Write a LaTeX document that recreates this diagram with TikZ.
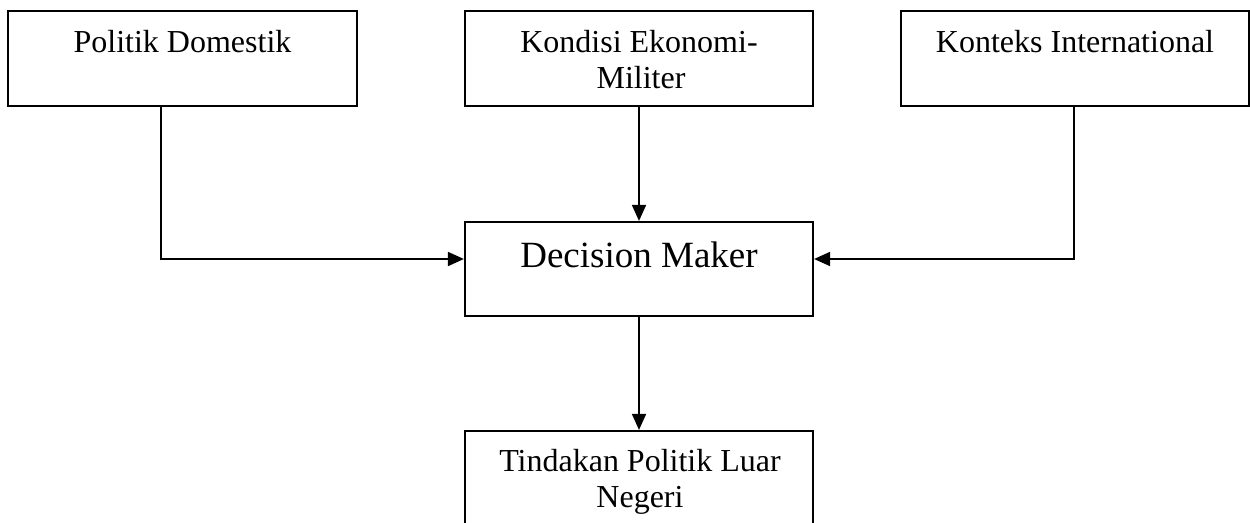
\documentclass[tikz,border=0pt]{standalone}
\usepackage{fontspec}
\setmainfont{Liberation Serif}
\usetikzlibrary{arrows.meta}
\begin{document}
\begin{tikzpicture}[x=1pt,y=-1pt,
  box/.style={draw=black, line width=2.2pt, rectangle, inner sep=0pt, fill=none},
  lbl/.style={anchor=base, inner sep=0pt, font=\fontsize{32}{36}\selectfont},
  biglbl/.style={anchor=base, inner sep=0pt, font=\fontsize{37}{42}\selectfont},
  conn/.style={draw=black, line width=1.8pt, -{Triangle[length=16pt,width=14pt]}}]
\useasboundingbox (0,0) rectangle (1250,522);
\fill[white] (0,0) rectangle (1250,522);
% boxes
\node[box, minimum width=349pt, minimum height=95pt] (pd) at (182.5,58.5) {};
\node[box, minimum width=348pt, minimum height=95pt] (ke) at (639,58.5) {};
\node[box, minimum width=348pt, minimum height=95pt] (ki) at (1075,58.5) {};
\node[box, minimum width=348pt, minimum height=94pt] (dm) at (639,269) {};
\node[box, minimum width=348pt, minimum height=100pt] (tp) at (639,481) {};
% labels
\node[lbl] (pdt) at (182.5,52) {Politik Domestik};
\node[lbl] (ket1) at (639,52) {Kondisi Ekonomi-};
\node[lbl] (ket2) at (641,88) {Militer};
\node[lbl] (kit) at (1075,52) {Konteks International};
\node[biglbl] (dmt) at (639,267) {Decision Maker};
\node[lbl] (tpt1) at (640,471) {Tindakan Politik Luar};
\node[lbl] (tpt2) at (640,507) {Negeri};
% connectors
\coordinate (c1) at (161,259);
\coordinate (c3) at (1074,259);
\draw[conn] (pd.south -| c1) -- (c1) -- (c1 -| dm.west);
\draw[conn] (ki.south -| c3) -- (c3) -- (c3 -| dm.east);
\draw[conn] (ke.south) -- (dm.north);
\draw[conn] (dm.south) -- (tp.north);
\end{tikzpicture}
\end{document}
